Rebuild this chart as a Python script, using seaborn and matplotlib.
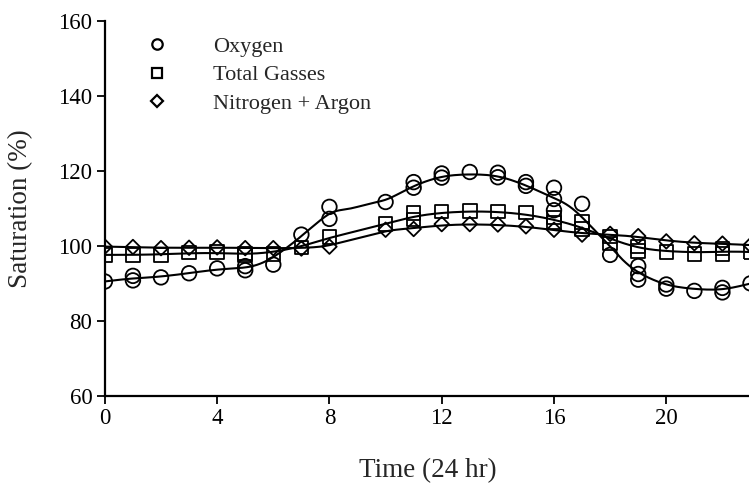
import numpy as np
import pandas as pd
import matplotlib
matplotlib.use("Agg")
import matplotlib.pyplot as plt
import seaborn as sns
from matplotlib.lines import Line2D

# ---- data ----
oxy_hours = [0, 1, 1, 2, 3, 4, 5, 5, 6, 7, 8, 8, 10, 11, 11, 12, 12, 13, 14, 14,
             15, 15, 16, 16, 16, 17, 18, 19, 19, 19, 20, 20, 21, 22, 22, 23]
oxy_values = [90.5, 92.0, 90.8, 91.6, 92.7, 94.0, 94.6, 93.5, 95.0, 103.0, 110.4, 107.2,
              111.7, 117.0, 115.5, 119.3, 118.2, 119.7, 119.5, 118.3,
              117.0, 116.0, 115.5, 112.5, 109.5, 111.2, 97.6, 94.6, 92.5, 91.0,
              89.7, 88.6, 88.0, 88.8, 87.6, 90.0]

tot_hours = [0, 1, 2, 3, 4, 5, 5, 6, 7, 8, 10, 11, 11, 12, 13, 14, 15, 16, 16,
             17, 17, 18, 18, 19, 19, 20, 21, 22, 22, 23]
tot_values = [97.6, 97.6, 97.6, 98.2, 98.3, 98.0, 97.5, 97.8, 99.6, 102.3, 105.8,
              108.8, 107.0, 109.2, 109.3, 109.2, 108.9, 107.6, 106.2,
              106.4, 104.5, 102.5, 100.6, 99.8, 98.6, 98.3, 97.9, 99.3, 97.9, 98.3]

nit_hours = [0, 1, 2, 3, 4, 5, 6, 7, 8, 10, 11, 12, 13, 14, 15, 16, 17, 18, 19,
             20, 21, 22, 23]
nit_values = [99.8, 99.7, 99.4, 99.5, 99.6, 99.4, 99.4, 99.3, 99.8, 104.3, 104.5,
              105.8, 105.8, 105.7, 105.2, 104.3, 103.0, 103.2, 102.6,
              101.2, 100.7, 100.6, 100.2]

series_names = ["Oxygen", "Total Gasses", "Nitrogen + Argon"]
x_ticks = [0, 4, 8, 12, 16, 20]
y_ticks = [60, 80, 100, 120, 140, 160]

df = pd.concat([
    pd.DataFrame({"hour": oxy_hours, "sat": oxy_values, "gas": series_names[0]}),
    pd.DataFrame({"hour": tot_hours, "sat": tot_values, "gas": series_names[1]}),
    pd.DataFrame({"hour": nit_hours, "sat": nit_values, "gas": series_names[2]}),
], ignore_index=True)


def smooth(x, y, grid, bw):
    x = np.asarray(x, float)
    y = np.asarray(y, float)
    out = []
    for g in grid:
        wi = np.exp(-0.5 * ((g - x) / bw) ** 2)
        X = np.vstack([np.ones_like(x), x - g]).T
        XtW = X.T * wi
        beta = np.linalg.solve(XtW @ X, XtW @ y)
        out.append(beta[0])
    return np.array(out)


grid = np.linspace(0, 23, 400)
curves = []
for name, bw in zip(series_names, [0.75, 0.9, 0.9]):
    sub = df[df.gas == name]
    curves.append(pd.DataFrame({"hour": grid, "sat": smooth(sub.hour, sub.sat, grid, bw),
                                "gas": name}))
curve_df = pd.concat(curves, ignore_index=True)

sns.set_style("ticks")
plt.rcParams["font.family"] = ["Liberation Serif", "DejaVu Serif"]

fig = plt.figure(figsize=(7.49, 4.84), dpi=100)
ax = fig.add_axes([0.140, 0.182, 0.862, 0.775])

sns.lineplot(data=curve_df, x="hour", y="sat", hue="gas", units="gas", estimator=None,
             palette={n: "black" for n in series_names}, linewidth=1.5,
             legend=False, ax=ax, zorder=3)

markers = {"Oxygen": "o", "Total Gasses": "s", "Nitrogen + Argon": "D"}
sizes = {"Oxygen": 110, "Total Gasses": 95, "Nitrogen + Argon": 55}
for name in series_names:
    sub = df[df.gas == name]
    sns.scatterplot(data=sub, x="hour", y="sat", marker=markers[name], s=sizes[name],
                    facecolor="none", edgecolor="black", linewidth=1.3, ax=ax,
                    zorder=4, legend=False, clip_on=True)

ax.set_xlim(0, 23)
ax.set_ylim(60, 160)
ax.set_xticks(x_ticks)
ax.set_yticks(y_ticks)
ax.tick_params(axis="both", direction="out", length=6, width=1.3, labelsize=16.5,
               colors="black", pad=3)
for s in ["left", "bottom"]:
    ax.spines[s].set_linewidth(1.6)
    ax.spines[s].set_color("black")
sns.despine(ax=ax)
ax.set_xlabel("Time (24 hr)", fontsize=19.5, labelpad=21)
ax.set_ylabel("Saturation (%)", fontsize=19.5, labelpad=18)

# legend
handles = [Line2D([], [], linestyle="none", marker=markers[n], markersize=ms,
                  markerfacecolor="none", markeredgecolor="black", markeredgewidth=1.6)
           for n, ms in zip(series_names, [7.5, 7.5, 6])]
ax.legend(handles, series_names, loc="upper left", bbox_to_anchor=(0.033, 1.012),
          frameon=False, fontsize=16, handletextpad=2.0, labelspacing=0.36,
          handlelength=1.0)

fig.savefig("out.png", dpi=100)
